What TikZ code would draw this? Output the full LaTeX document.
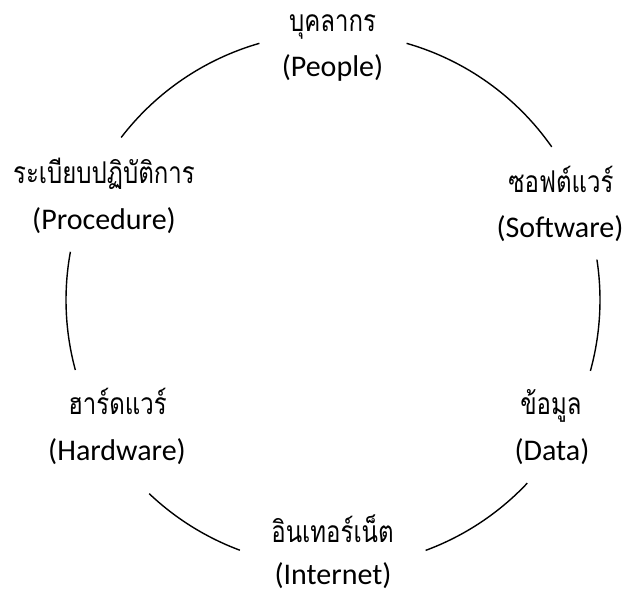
\documentclass[tikz,border=0pt]{standalone}
\usepackage{fontspec}
\setmainfont{Carlito}
\newfontfamily\thaifont[Script=Thai,FakeStretch=0.8]{Loma}
\begin{document}
\begin{tikzpicture}[x=1pt,y=1pt,
  th/.style={anchor=base,inner sep=0pt,font=\thaifont\fontsize{30}{34}\selectfont},
  en/.style={anchor=base,inner sep=0pt,font=\fontsize{30}{34}\selectfont},
  ring/.style={line width=1.4pt,black}]
\useasboundingbox (0,0) rectangle (624,594);
\coordinate (c) at (333,294);
% labels
\node[th] (pth) at (332.5,562) {บุคลากร};
\node[en] (pen) at (332.5,517) {(People)};
\node[th] (sth) at (561,401) {ซอฟต์แวร์};
\node[en] (sen) at (560,356) {(Software)};
\node[th] (dth) at (551,179) {ข้อมูล};
\node[en] (den) at (552,133) {(Data)};
\node[th] (ith) at (332.5,51) {อินเทอร์เน็ต};
\node[en] (ien) at (333,9) {(Internet)};
\node[th] (hth) at (117.5,179) {ฮาร์ดแวร์};
\node[en] (hen) at (117,133) {(Hardware)};
\node[th] (rth) at (104,410) {ระเบียบปฏิบัติการ};
\node[en] (ren) at (104,364) {(Procedure)};
% arcs
\def\R{267}
\foreach \a/\b in {35/74, 106/142.5, 169.6/195.2, 226.5/249.6, 290.3/316.7, 344.6/368.7}
  \draw[ring] ([shift={(\a:\R)}]c) arc[start angle=\a, end angle=\b, radius=\R];
\end{tikzpicture}
\end{document}
